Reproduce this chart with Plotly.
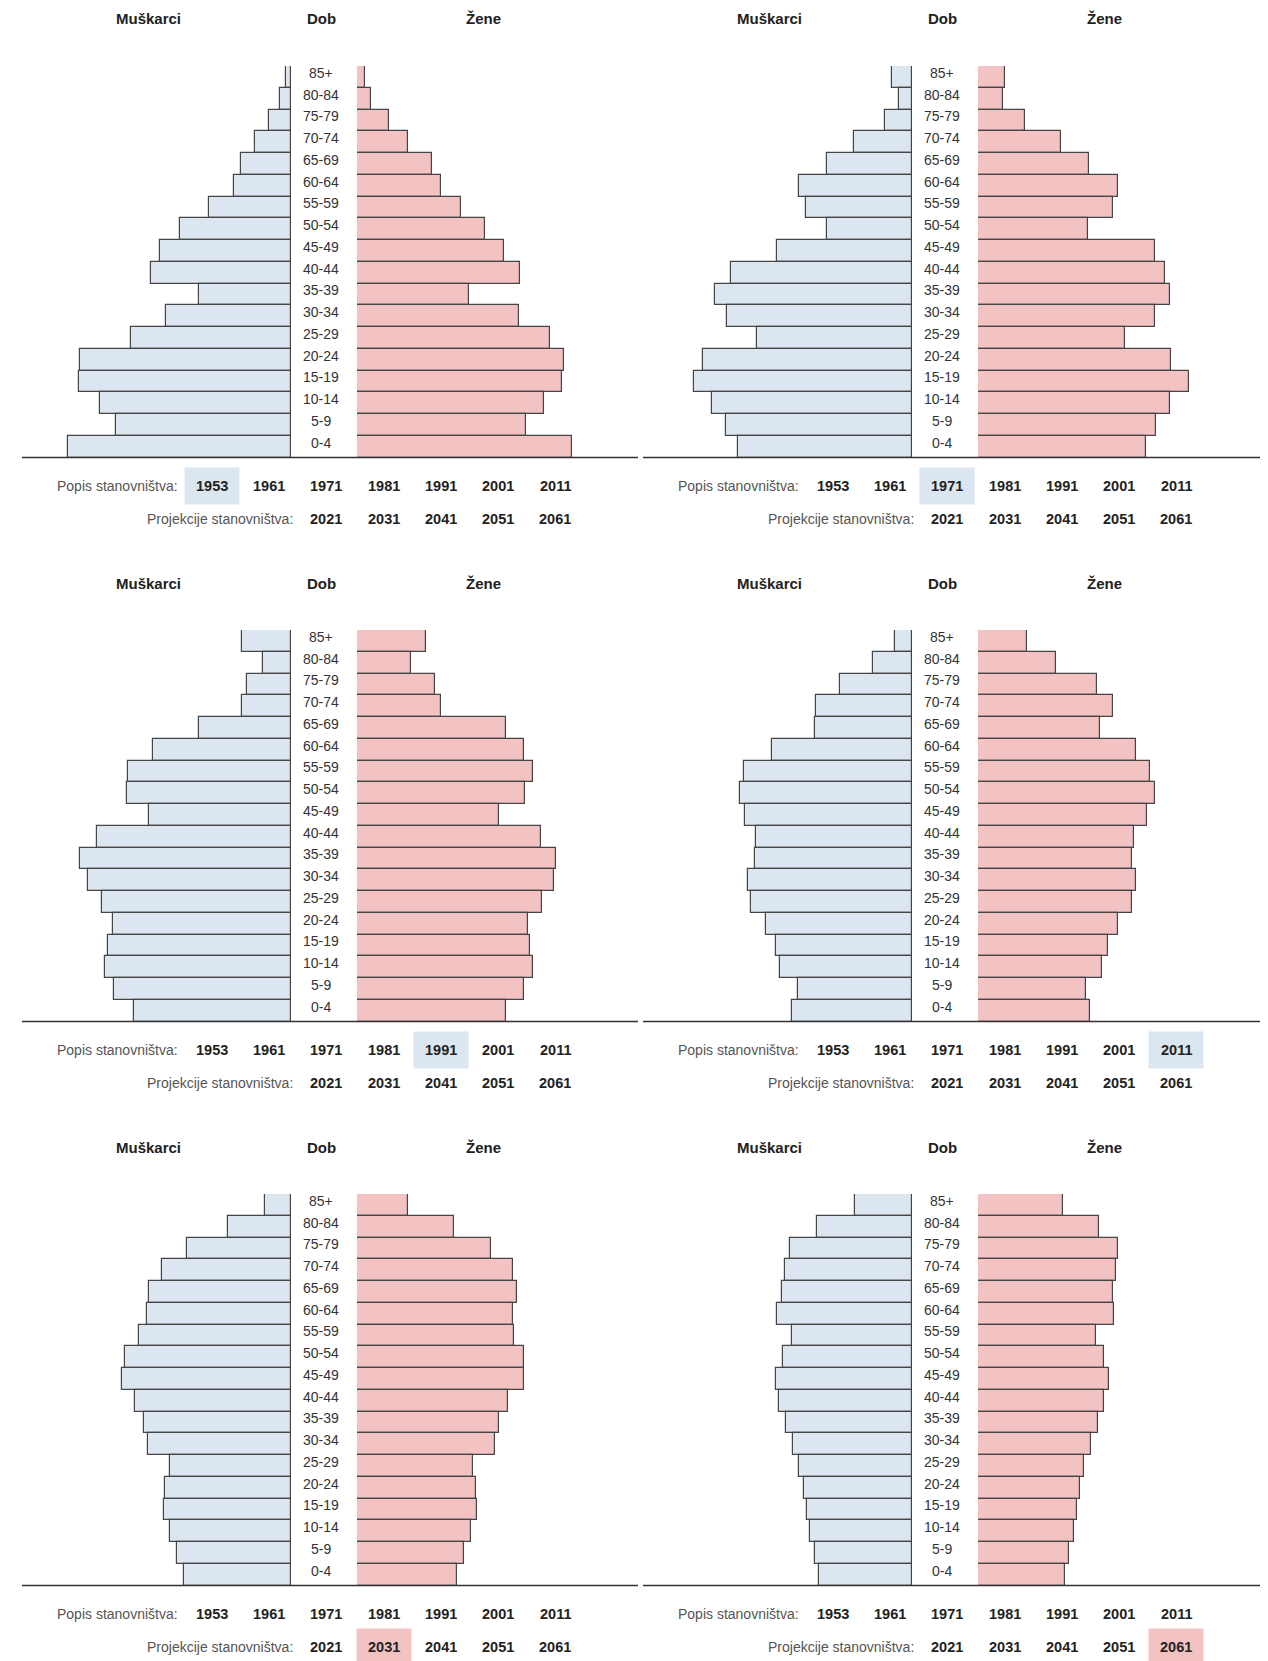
import plotly.graph_objects as go

W, H = 1268, 1661

# Age groups, top to bottom
dobne_skupine = ["85+", "80-84", "75-79", "70-74", "65-69", "60-64", "55-59", "50-54", "45-49",
                 "40-44", "35-39", "30-34", "25-29", "20-24", "15-19", "10-14", "5-9", "0-4"]

# Relative population sizes, top (85+) to bottom (0-4)
muskarci_1953 = [13, 27, 55, 87, 123, 140, 202, 271, 322, 344, 226, 306, 393, 516, 520, 469, 428, 546]
zene_1953 = [19, 34, 78, 124, 183, 205, 255, 313, 360, 400, 275, 398, 474, 507, 502, 457, 414, 527]
muskarci_1971 = [50, 33, 68, 143, 211, 279, 261, 209, 333, 448, 486, 457, 384, 518, 540, 494, 460, 431]
zene_1971 = [67, 62, 116, 206, 275, 347, 333, 272, 438, 462, 475, 438, 364, 477, 521, 475, 439, 416]
muskarci_1991 = [119, 68, 107, 119, 225, 339, 400, 402, 349, 475, 517, 497, 462, 436, 448, 455, 433, 385]
zene_1991 = [169, 132, 191, 205, 365, 408, 432, 412, 348, 451, 488, 482, 453, 420, 424, 432, 410, 365]
muskarci_2011 = [41, 97, 179, 238, 240, 346, 415, 426, 412, 387, 389, 405, 398, 360, 337, 326, 281, 296]
zene_2011 = [122, 194, 294, 334, 302, 391, 426, 438, 419, 387, 380, 391, 381, 346, 322, 307, 266, 278]
muskarci_2031 = [63, 155, 256, 315, 347, 354, 373, 407, 415, 381, 360, 350, 297, 308, 311, 297, 280, 262]
zene_2031 = [125, 237, 329, 381, 392, 382, 384, 408, 408, 369, 347, 337, 283, 292, 294, 280, 262, 246]
muskarci_2061 = [141, 235, 302, 315, 321, 333, 296, 320, 336, 328, 311, 295, 279, 268, 259, 252, 239, 229]
zene_2061 = [210, 299, 345, 342, 335, 337, 291, 311, 325, 311, 296, 279, 263, 253, 245, 237, 226, 215]

godine_popisa = ["1953", "1961", "1971", "1981", "1991", "2001", "2011"]
godine_projekcija = ["2021", "2031", "2041", "2051", "2061"]

panels = [
    (muskarci_1953, zene_1953, "popis", "1953"),
    (muskarci_1971, zene_1971, "popis", "1971"),
    (muskarci_1991, zene_1991, "popis", "1991"),
    (muskarci_2011, zene_2011, "popis", "2011"),
    (muskarci_2031, zene_2031, "proj", "2031"),
    (muskarci_2061, zene_2061, "proj", "2061"),
]

MALE_FILL = "#dce6f1"
FEMALE_FILL = "#f3c3c4"
OUTLINE = "#454545"
FONT = "Liberation Sans, Arial, sans-serif"


def px(x):
    return x / W


def py(y):
    return 1 - y / H


fig = go.Figure()
layout = {}
shapes = []
annotations = []

popis_x = [212, 269, 326, 384, 441, 498, 555]
proj_x = [326, 384, 441, 498, 555]

n = len(dobne_skupine)
ypos = [n - 1 - i for i in range(n)]

for p, (male, female, hl_row, hl_year) in enumerate(panels):
    r, c = divmod(p, 2)
    dx = c * 621
    dy = r * 564
    s = 2.45 if c == 0 else 2.473

    xm = 2 * p + 1
    xf = 2 * p + 2
    yi = p + 1
    xm_name = "x" if xm == 1 else f"x{xm}"
    xf_name = f"x{xf}"
    y_name = "y" if yi == 1 else f"y{yi}"
    xm_key = "xaxis" if xm == 1 else f"xaxis{xm}"
    xf_key = f"xaxis{xf}"
    y_key = "yaxis" if yi == 1 else f"yaxis{yi}"

    line_l = 22 + dx
    line_r = 638 + dx if c == 0 else 1260
    male_edge = 291 + dx
    female_edge = 357 + dx if c == 0 else 978

    layout[xm_key] = dict(domain=[px(line_l), px(male_edge)], range=[(male_edge - line_l) * s, 0],
                          visible=False, anchor=y_name, fixedrange=True)
    layout[xf_key] = dict(domain=[px(female_edge), px(line_r)], range=[0, (line_r - female_edge) * s],
                          visible=False, anchor=y_name, fixedrange=True)
    layout[y_key] = dict(domain=[py(457.5 + dy), py(66 + dy)], range=[-0.5, n - 0.5],
                         visible=False, anchor=xm_name, fixedrange=True)

    fig.add_trace(go.Bar(x=male, y=ypos, orientation="h", xaxis=xm_name, yaxis=y_name, width=1,
                         marker=dict(color=MALE_FILL, line=dict(color=OUTLINE, width=1.2)),
                         showlegend=False, hoverinfo="skip"))
    fig.add_trace(go.Bar(x=female, y=ypos, orientation="h", xaxis=xf_name, yaxis=y_name, width=1,
                         marker=dict(color=FEMALE_FILL, line=dict(color=OUTLINE, width=1.2)),
                         showlegend=False, hoverinfo="skip"))

    # age labels
    for lab, yv in zip(dobne_skupine, ypos):
        annotations.append(dict(x=px(321 + dx), y=yv, xref="paper", yref=y_name, text=lab,
                                showarrow=False, xanchor="center", yanchor="middle", yshift=4,
                                font=dict(family=FONT, size=14, color="#333333")))

    # headers
    for txt, hx in (("Muškarci", 148), ("Dob", 321), ("Žene", 483)):
        annotations.append(dict(x=px(hx + dx), y=py(19 + dy), xref="paper", yref="paper",
                                text=f"<b>{txt}</b>", showarrow=False, xanchor="center",
                                yanchor="middle", font=dict(family=FONT, size=15, color="#222222")))

    # baseline
    shapes.append(dict(type="line", xref="paper", yref="paper", x0=px(line_l), x1=px(line_r),
                       y0=py(457.5 + dy), y1=py(457.5 + dy), line=dict(color="#333333", width=1.5)))

    row1_y = 486 + dy
    row2_y = 519 + dy

    # highlight box
    if hl_row == "popis":
        hx = popis_x[godine_popisa.index(hl_year)] + dx
        hy = row1_y
        hcol = MALE_FILL
    else:
        hx = proj_x[godine_projekcija.index(hl_year)] + dx
        hy = row2_y
        hcol = FEMALE_FILL
    shapes.append(dict(type="rect", xref="paper", yref="paper", x0=px(hx - 27.5), x1=px(hx + 27.5),
                       y0=py(hy + 18.5), y1=py(hy - 18.5), fillcolor=hcol, line=dict(width=0),
                       layer="below"))

    annotations.append(dict(x=px(180 + dx), y=py(row1_y), xref="paper", yref="paper",
                            text="Popis stanovništva:", showarrow=False, xanchor="right",
                            yanchor="middle", font=dict(family=FONT, size=14, color="#555555")))
    for g, gx in zip(godine_popisa, popis_x):
        annotations.append(dict(x=px(gx + dx), y=py(row1_y), xref="paper", yref="paper",
                                text=f"<b>{g}</b>", showarrow=False, xanchor="center",
                                yanchor="middle", font=dict(family=FONT, size=14.5, color="#222222")))
    annotations.append(dict(x=px(295 + dx), y=py(row2_y), xref="paper", yref="paper",
                            text="Projekcije stanovništva:", showarrow=False, xanchor="right",
                            yanchor="middle", font=dict(family=FONT, size=14, color="#555555")))
    for g, gx in zip(godine_projekcija, proj_x):
        annotations.append(dict(x=px(gx + dx), y=py(row2_y), xref="paper", yref="paper",
                                text=f"<b>{g}</b>", showarrow=False, xanchor="center",
                                yanchor="middle", font=dict(family=FONT, size=14.5, color="#222222")))

fig.update_layout(
    width=W, height=H,
    margin=dict(l=0, r=0, t=0, b=0),
    paper_bgcolor="white", plot_bgcolor="rgba(0,0,0,0)",
    bargap=0, barmode="overlay",
    shapes=shapes, annotations=annotations,
    showlegend=False,
    **layout,
)

fig.write_html("out.html", config={"displayModeBar": False},
               post_script="document.body.style.margin='0px';document.body.style.overflow='hidden';")
